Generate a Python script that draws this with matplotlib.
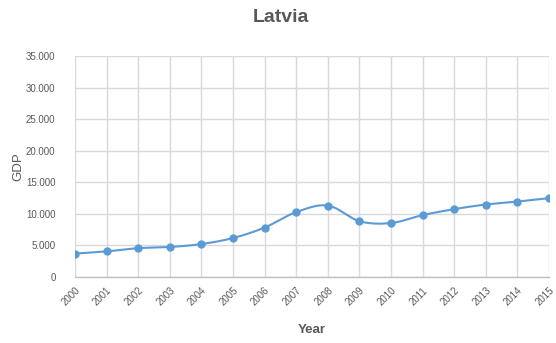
import numpy as np
import matplotlib
matplotlib.use("Agg")
import matplotlib.pyplot as plt
from matplotlib.ticker import FuncFormatter

years = [2000, 2001, 2002, 2003, 2004, 2005, 2006, 2007,
         2008, 2009, 2010, 2011, 2012, 2013, 2014, 2015]
gdp = [3700, 4050, 4570, 4750, 5220, 6170, 7830, 10270,
       11320, 8840, 8550, 9800, 10750, 11480, 11950, 12490]
y_ticks = [0, 5000, 10000, 15000, 20000, 25000, 30000, 35000]


def catmull_rom(x, y, n=20):
    """Smooth curve through all points (Excel-style smoothed line)."""
    x = np.asarray(x, float)
    y = np.asarray(y, float)
    px = np.concatenate([[2 * x[0] - x[1]], x, [2 * x[-1] - x[-2]]])
    py = np.concatenate([[2 * y[0] - y[1]], y, [2 * y[-1] - y[-2]]])
    xs, ys = [], []
    t = np.linspace(0, 1, n, endpoint=False)
    for i in range(1, len(px) - 2):
        p0, p1, p2, p3 = (np.array([px[j], py[j]]) for j in range(i - 1, i + 3))
        tt = t[:, None]
        pts = 0.5 * ((2 * p1) + (-p0 + p2) * tt
                     + (2 * p0 - 5 * p1 + 4 * p2 - p3) * tt ** 2
                     + (-p0 + 3 * p1 - 3 * p2 + p3) * tt ** 3)
        xs.extend(pts[:, 0])
        ys.extend(pts[:, 1])
    xs.append(x[-1])
    ys.append(y[-1])
    return np.array(xs), np.array(ys)


plt.rcParams['font.family'] = ['Liberation Sans', 'DejaVu Sans']

fig = plt.figure(figsize=(5.56, 3.43), dpi=100)
ax = fig.add_axes([0.1349, 0.1924, 0.8525, 0.6443])

line_color = '#5B9BD5'
sx, sy = catmull_rom(years, gdp)
ax.plot(sx, sy, color=line_color, lw=1.5, solid_capstyle='round', zorder=3)
ax.plot(years, gdp, 'o', color=line_color, ms=5, zorder=4)

ax.set_xlim(years[0], years[-1])
ax.set_ylim(0, 35000)
ax.set_xticks(years)
ax.set_yticks(y_ticks)
ax.yaxis.set_major_formatter(FuncFormatter(
    lambda v, _: f"{int(v):,}".replace(",", ".")))

ax.grid(True, color='#D9D9D9', lw=1.0)
ax.set_axisbelow(True)
for side in ['top', 'right']:
    ax.spines[side].set_visible(False)
ax.spines['left'].set_visible(False)
ax.spines['bottom'].set_color('#BFBFBF')
ax.spines['bottom'].set_linewidth(1.0)

ax.tick_params(axis='both', length=0, labelsize=7, labelcolor='#595959')
ax.tick_params(axis='y', pad=14)
ax.tick_params(axis='x', pad=6)
for lab in ax.get_xticklabels():
    lab.set_rotation(45)
    lab.set_ha('right')
    lab.set_va('top')
    lab.set_rotation_mode('anchor')

ax.set_xlabel('Year', fontsize=9.5, color='#595959', fontweight='bold', labelpad=12)
ax.set_ylabel('GDP', fontsize=9.5, color='#595959', labelpad=1)
fig.text(0.505, 0.95, 'Latvia', ha='center', va='center',
         fontsize=14, fontweight='bold', color='#595959')

fig.savefig('out.png', dpi=100)
